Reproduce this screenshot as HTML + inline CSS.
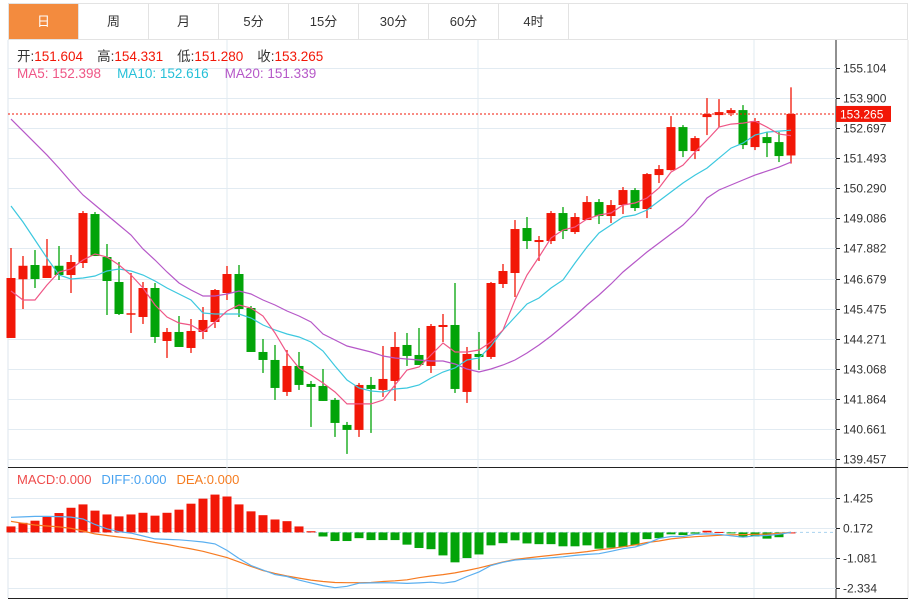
<!DOCTYPE html>
<html><head><meta charset="utf-8">
<style>
html,body{margin:0;padding:0;background:#fff;width:912px;height:601px;overflow:hidden;font-family:"Liberation Sans","Noto Sans CJK SC",sans-serif;}
#tabs{position:absolute;left:8px;top:3px;width:900px;height:37px;border:1px solid #e3e3e3;box-sizing:border-box;display:flex;}
.tab{width:70px;height:100%;border-right:1px solid #e3e3e3;box-sizing:border-box;text-align:center;line-height:36px;font-size:13px;color:#333;}
.tab.on{background:#f38b3e;color:#fff;}
svg{position:absolute;left:0;top:0;}
</style></head><body>
<div id="tabs">
<div class="tab on">日</div>
<div class="tab">周</div>
<div class="tab">月</div>
<div class="tab">5分</div>
<div class="tab">15分</div>
<div class="tab">30分</div>
<div class="tab">60分</div>
<div class="tab">4时</div>
</div>
<svg id="chart" width="912" height="601" xmlns="http://www.w3.org/2000/svg"></svg>
<script>
const priceTicks=[155.104,153.900,152.697,151.493,150.290,149.086,147.882,146.679,145.475,144.271,143.068,141.864,140.661,139.457];
const macdTicks=[1.425,0.172,-1.081,-2.334];
const opens=[144.30,146.65,147.22,146.70,147.19,146.82,147.30,149.26,147.54,146.54,145.23,145.14,146.30,144.18,144.54,143.90,144.54,144.94,146.10,146.86,145.50,143.74,143.42,142.14,143.18,142.46,142.38,141.82,140.82,140.62,142.42,142.22,142.58,144.02,143.62,143.18,144.74,144.82,142.14,143.66,143.54,146.46,146.90,148.70,148.14,148.18,149.30,148.54,149.02,149.74,149.18,149.62,150.22,149.46,150.82,151.02,152.74,151.78,153.14,153.22,153.30,153.42,151.94,152.34,152.14,151.604];
const closes=[146.70,147.19,146.66,147.19,146.82,147.34,149.30,147.58,146.58,145.26,145.29,146.30,144.34,144.54,143.94,144.58,145.02,146.22,146.86,145.46,143.74,143.42,142.30,143.18,142.42,142.34,141.78,140.90,140.62,142.42,142.26,142.66,143.94,143.58,143.22,144.78,144.82,142.26,143.66,143.54,146.50,146.98,148.66,148.18,148.22,149.30,148.58,149.14,149.74,149.18,149.62,150.22,149.50,150.86,151.06,152.74,151.78,152.30,153.26,153.34,153.42,152.02,152.98,152.10,151.58,153.265];
const highs=[147.90,147.58,147.82,148.26,147.98,147.62,149.38,149.34,148.06,147.34,146.90,146.54,146.50,144.70,145.18,145.06,145.54,146.26,147.18,147.22,145.58,144.26,144.02,143.82,143.74,142.58,143.06,141.90,140.94,142.50,142.74,143.98,144.54,144.50,144.70,144.86,145.26,146.50,143.94,144.54,146.54,147.26,149.02,149.14,148.38,149.38,149.54,149.30,149.98,149.86,149.82,150.34,150.30,150.90,151.22,153.18,152.82,152.38,153.90,153.86,153.50,153.62,153.10,152.54,152.54,154.331];
const lows=[144.30,145.46,146.30,146.70,146.62,146.10,147.10,147.58,145.22,145.22,144.50,144.86,144.10,143.50,143.94,143.70,144.26,144.70,145.82,145.14,143.74,142.90,141.82,141.98,142.22,140.74,141.78,140.34,139.66,140.34,140.50,141.94,141.78,143.18,143.22,142.90,144.14,142.10,141.70,143.02,143.46,146.30,145.94,147.86,147.38,148.06,148.26,148.46,149.02,148.86,148.90,149.26,149.38,149.10,150.50,151.00,151.54,151.46,152.42,152.74,153.18,151.86,151.82,151.54,151.34,151.280];
const ma5=[146.18,145.82,145.82,146.42,146.94,147.06,147.42,147.66,147.54,147.22,146.82,146.30,145.62,145.14,144.90,144.82,144.54,144.94,145.38,145.62,145.50,145.18,144.50,143.70,143.10,142.82,142.50,142.14,141.66,141.66,141.66,141.82,142.42,143.02,143.14,143.62,144.10,143.74,143.74,143.82,144.14,144.62,145.82,146.82,147.54,148.30,148.62,148.74,149.06,149.22,149.30,149.62,149.70,149.90,150.30,150.94,151.22,151.74,152.22,152.74,152.86,152.90,152.98,152.74,152.46,152.398];
const ma10=[149.58,148.94,148.22,147.50,146.82,146.66,146.70,146.78,146.98,147.06,146.98,146.82,146.58,146.30,146.06,145.82,145.30,145.26,145.26,145.26,145.10,144.82,144.62,144.46,144.34,144.14,143.78,143.18,142.62,142.30,142.18,142.14,142.26,142.30,142.42,142.70,142.94,143.10,143.42,143.50,143.98,144.62,145.14,145.66,145.90,146.30,146.62,147.30,147.94,148.50,148.82,149.14,149.22,149.42,149.78,150.14,150.50,150.82,151.10,151.50,151.90,152.10,152.42,152.54,152.58,152.616];
const ma20=[153.06,152.58,152.10,151.62,151.10,150.54,150.02,149.62,149.22,148.82,148.42,147.86,147.42,146.94,146.50,146.22,145.98,145.98,146.06,146.18,146.06,145.82,145.62,145.38,145.18,144.94,144.46,144.22,143.98,143.86,143.74,143.58,143.50,143.46,143.42,143.38,143.38,143.26,143.06,142.94,143.06,143.22,143.42,143.70,144.02,144.38,144.78,145.18,145.62,146.02,146.46,146.94,147.34,147.74,148.10,148.46,148.82,149.30,149.90,150.22,150.42,150.62,150.82,150.98,151.14,151.339];
const macdHist=[0.25,0.40,0.49,0.67,0.81,1.03,1.17,0.91,0.75,0.67,0.75,0.82,0.70,0.82,0.95,1.20,1.41,1.58,1.50,1.17,0.88,0.72,0.54,0.47,0.25,0.05,-0.17,-0.36,-0.36,-0.24,-0.32,-0.32,-0.32,-0.51,-0.65,-0.70,-0.96,-1.25,-1.07,-0.92,-0.54,-0.45,-0.33,-0.46,-0.49,-0.49,-0.58,-0.58,-0.54,-0.68,-0.64,-0.61,-0.54,-0.28,-0.24,-0.08,-0.11,-0.05,0.07,0.02,-0.03,-0.20,-0.17,-0.26,-0.20,0.00];
const diff=[0.63,0.65,0.67,0.67,0.66,0.64,0.56,0.33,0.15,0.03,-0.03,-0.15,-0.27,-0.29,-0.31,-0.35,-0.40,-0.48,-0.75,-1.09,-1.38,-1.57,-1.76,-1.84,-1.99,-2.11,-2.22,-2.31,-2.25,-2.12,-2.11,-2.10,-2.11,-2.13,-2.11,-2.08,-2.12,-2.05,-1.84,-1.65,-1.38,-1.25,-1.15,-1.12,-1.10,-1.06,-1.02,-0.96,-0.92,-0.89,-0.79,-0.68,-0.61,-0.46,-0.25,-0.17,-0.17,-0.08,-0.06,-0.08,-0.14,-0.20,-0.14,-0.13,-0.08,0.00];
const dea=[0.46,0.38,0.31,0.27,0.23,0.17,0.06,-0.06,-0.13,-0.19,-0.25,-0.33,-0.42,-0.50,-0.60,-0.69,-0.79,-0.92,-1.05,-1.23,-1.42,-1.59,-1.71,-1.82,-1.91,-1.99,-2.05,-2.09,-2.10,-2.10,-2.09,-2.05,-2.02,-1.98,-1.89,-1.82,-1.76,-1.69,-1.59,-1.48,-1.36,-1.23,-1.13,-1.07,-1.01,-0.96,-0.90,-0.86,-0.80,-0.73,-0.67,-0.60,-0.52,-0.42,-0.36,-0.27,-0.22,-0.18,-0.15,-0.12,-0.10,-0.09,-0.08,-0.07,-0.04,0.00];
const lastClose=153.265;

const NS='http://www.w3.org/2000/svg';
const svg=document.getElementById('chart');
const RED='#f21707',GREEN='#03a409';
const pTop=68,pBot=459,mTop=498.3,mBot=588.3;
function yP(p){return pTop+(priceTicks[0]-p)/(priceTicks[0]-priceTicks[priceTicks.length-1])*(pBot-pTop);}
function yM(v){return mTop+(macdTicks[0]-v)/(macdTicks[0]-macdTicks[macdTicks.length-1])*(mBot-mTop);}
function xC(i){return 11+12*i;}
function mk(tag,attrs,parent){const e=document.createElementNS(NS,tag);for(const k in attrs)e.setAttribute(k,attrs[k]);(parent||svg).appendChild(e);return e;}

let g=mk('g',{});


mk('line',{x1:8,y1:40,x2:8,y2:598,stroke:'#dde6ee'},g);
mk('line',{x1:908,y1:40,x2:908,y2:598,stroke:'#e3e3e3'},g);
mk('line',{x1:836,y1:40,x2:836,y2:598,stroke:'#222'},g);
mk('line',{x1:8,y1:467.5,x2:908,y2:467.5,stroke:'#222'},g);
mk('line',{x1:8,y1:598.5,x2:908,y2:598.5,stroke:'#222'},g);
[227,478,754].forEach(x=>{mk('line',{x1:x,y1:40,x2:x,y2:598,stroke:'#e2ebf2'},g);});

priceTicks.forEach(t=>{
  const y=Math.round(yP(t))+0.5;
  mk('line',{x1:8,y1:y,x2:836,y2:y,stroke:'#e2ebf2'},g);
  mk('line',{x1:836,y1:y,x2:840,y2:y,stroke:'#222'},g);
  const tx=mk('text',{x:843,y:y+4,'font-size':12,fill:'#333'},g);
  tx.textContent=t.toFixed(3);
  
  
});
macdTicks.forEach(t=>{
  const y=Math.round(yM(t))+0.5;
  mk('line',{x1:8,y1:y,x2:836,y2:y,stroke:'#e2ebf2'},g);
  mk('line',{x1:836,y1:y,x2:840,y2:y,stroke:'#222'},g);
  const tx=mk('text',{x:843,y:y+4,'font-size':12,fill:'#333'},g);
  tx.textContent=t.toFixed(3);
  
  
});

const cg=mk('g',{});


opens.forEach((o,i)=>{
  const c=closes[i],up=c>=o,col=up?RED:GREEN,x=xC(i);
  const cd=mk('g',{},cg);
  
  
  mk('line',{x1:x,y1:yP(highs[i]),x2:x,y2:yP(lows[i]),stroke:col,'stroke-width':1.3},cd);
  const t=yP(Math.max(o,c)),b=yP(Math.min(o,c));
  mk('rect',{x:x-4.5,y:t,width:9,height:Math.max(1.5,b-t),fill:col},cd);
});

function line(arr,yf,color,name){
  const pts=arr.map((v,i)=>xC(i).toFixed(1)+','+yf(v).toFixed(1)).join(' ');
  const p=mk('polyline',{points:pts,fill:'none',stroke:color,'stroke-width':1.2});
  
  
}
line(ma20,yP,'#b658c8','ma20-line');
line(ma10,yP,'#3cc8df','ma10-line');
line(ma5,yP,'#ef5686','ma5-line');

const ly=yP(lastClose);
const lp=mk('line',{x1:8,y1:ly,x2:836,y2:ly,stroke:RED,'stroke-dasharray':'2,2','stroke-width':1});


const lb=mk('rect',{x:836,y:ly-8,width:55,height:16,fill:RED});


const lt=mk('text',{x:840,y:ly+4.5,'font-size':12,fill:'#fff'});
lt.textContent=lastClose.toFixed(3);



const zy=yM(0);
const zl=mk('line',{x1:8,y1:zy,x2:836,y2:zy,stroke:'#a9d3ef','stroke-dasharray':'3,3'});


const hg=mk('g',{});


macdHist.forEach((v,i)=>{
  const y=yM(v);
  const r=mk('rect',{x:xC(i)-4.5,y:Math.min(y,zy),width:9,height:Math.max(1,Math.abs(y-zy)),fill:v>=0?RED:GREEN},hg);
  
  
});
line(dea,yM,'#f67b22','dea-line');
line(diff,yM,'#5aaff0','diff-line');

function legend(x,y,fs,parts,name){
  const t=mk('text',{x:x,y:y,'font-size':fs});
  
  
  parts.forEach(([s,c,dx])=>{const sp=mk('tspan',{fill:c},t);if(dx)sp.setAttribute('dx',dx);sp.textContent=s;});
}
legend(17,61,13.5,[['开:','#333'],['151.604',RED],['高:','#333',14],['154.331',RED],['低:','#333',14],['151.280',RED],['收:','#333',14],['153.265',RED]],'ohlc-legend');
legend(17,78,13.5,[['MA5: 152.398','#ef5686'],['MA10: 152.616','#26c0d8',16],['MA20: 151.339','#b658c8',16]],'ma-legend');
legend(17,484,13,[['MACD:0.000','#ef4b4b'],['DIFF:0.000','#4aa3f0',10],['DEA:0.000','#f57c20',10]],'macd-legend');
</script>
</body></html>
